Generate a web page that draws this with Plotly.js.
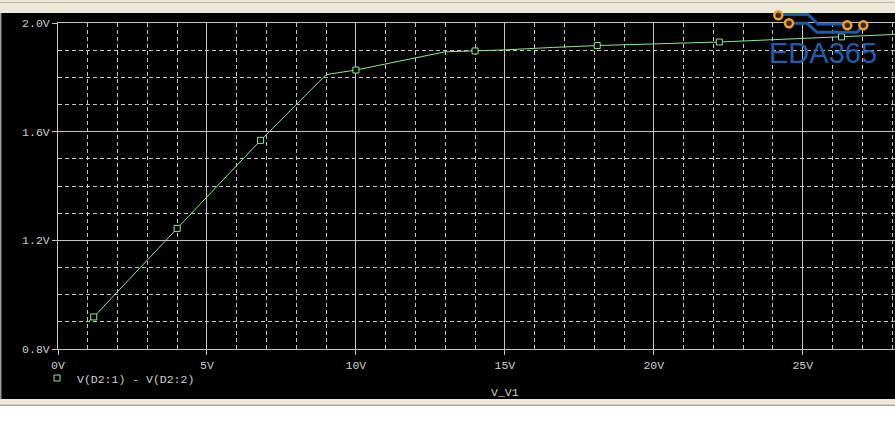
<!DOCTYPE html>
<html>
<head>
<meta charset="utf-8">
<script src="https://cdn.plot.ly/plotly-3.0.1.min.js"></script>
<style>
  html, body { margin: 0; padding: 0; background: #ffffff; }
  #chart { width: 895px; height: 429px; }
</style>
</head>
<body>
<div id="chart"></div>
<script>
// ---- data ----
const sweepV      = [1.0, 1.2, 4.0, 6.8, 9.0, 10.0, 13.0, 14.0, 15.0, 16.6, 18.1, 22.2, 26.3, 28.1]; // V_V1
const diodeV      = [0.899, 0.918, 1.244, 1.568, 1.810, 1.827, 1.894, 1.897, 1.901, 1.910, 1.917, 1.930, 1.949, 1.958];
const markSweepV  = [1.2, 4.0, 6.8, 10.0, 14.0, 18.1, 22.2, 26.3];
const markDiodeV  = [0.918, 1.244, 1.568, 1.827, 1.897, 1.917, 1.930, 1.949];
const traceName   = "V(D2:1) - V(D2:2)";
const xTitle      = "V_V1";
const logoText    = "EDA365";

// ---- layout geometry (page pixels -> paper) ----
const L = 58, T = 23, W = 837, H = 326;
const px = x => (x - L) / W;
const py = y => (T + H - y) / H;

const green = '#8fe88f';
const grey  = '#c4c4c4';
const txt   = '#cfcfcf';
const mono  = 'Liberation Mono, Courier New, monospace';

const traces = [
  { x: sweepV, y: diodeV, type: 'scatter', mode: 'lines',
    line: { color: green, width: 1 }, showlegend: false, hoverinfo: 'skip' },
  { x: markSweepV, y: markDiodeV, type: 'scatter', mode: 'markers', name: traceName,
    marker: { symbol: 'square', size: 6, color: '#000000', line: { color: green, width: 1 } } }
];

function rect(x0, y0, x1, y1, color, layer) {
  return { type: 'rect', xref: 'paper', yref: 'paper', x0: px(x0), x1: px(x1), y0: py(y0), y1: py(y1),
           fillcolor: color, line: { width: 0 }, layer: layer || 'below' };
}
function ring(x, y) {
  return { type: 'circle', xref: 'paper', yref: 'paper', xsizemode: 'pixel', ysizemode: 'pixel',
           xanchor: px(x), yanchor: py(y), x0: -4, x1: 4, y0: -4, y1: 4,
           fillcolor: '#3a2a10', line: { color: '#f0a030', width: 2.5 }, layer: 'above' };
}
function path(pts) {
  const d = pts.map((p, i) => (i ? 'L' : 'M') + px(p[0]) + ',' + py(p[1])).join(' ');
  return { type: 'path', xref: 'paper', yref: 'paper', path: d,
           line: { color: '#1d5aa6', width: 3 }, layer: 'above' };
}

const shapes = [
  // window frame
  rect(0, 0, 895, 13, '#ece9d8'),
  rect(0, 2, 895, 3, '#b9b5a6'),
  rect(0, 13, 895, 399, '#000000'),
  rect(0, 13, 1.5, 399, '#9a9a9a'),
  rect(0, 399, 895, 404.5, '#ece9d8'),
  rect(0, 404.5, 895, 406, '#aca899'),
  // logo traces
  path([[783, 14.5], [808, 14.5], [818, 24], [847, 24]]),
  path([[790, 23.3], [807, 23.3], [817, 32.3], [857, 32.3], [863, 25.3]]),
  ring(778.3, 15.3), ring(789, 23.3), ring(847.3, 25.3), ring(863.3, 25.3)
];

const axisCommon = {
  showline: true, linecolor: grey, linewidth: 1,
  showgrid: true, gridcolor: grey, gridwidth: 1,
  zeroline: false, ticks: 'outside', ticklen: 5, tickcolor: grey, tickwidth: 1,
  tickfont: { family: mono, size: 11.5, color: txt }, ticksuffix: 'V', fixedrange: true
};

const layout = {
  width: 895, height: 429,
  margin: { l: L, r: 895 - L - W, t: T, b: 429 - T - H, autoexpand: false },
  paper_bgcolor: '#ffffff', plot_bgcolor: '#000000',
  xaxis: Object.assign({}, axisCommon, {
    range: [0, W / 29.79], tick0: 0, dtick: 5, tickmode: 'linear', mirror: true,
    minor: { dtick: 1, tick0: 0, showgrid: true, gridcolor: grey, gridwidth: 1, griddash: '4px,3px', ticks: '' }
  }),
  yaxis: Object.assign({}, axisCommon, {
    range: [0.8, 2.0], tick0: 0.8, dtick: 0.4, tickmode: 'linear', tickformat: '.1f',
    minor: { dtick: 0.1, tick0: 0.8, showgrid: true, gridcolor: grey, gridwidth: 1, griddash: '4px,3px', ticks: '' }
  }),
  showlegend: true,
  legend: { x: px(77 - 40), y: py(378), xanchor: 'left', yanchor: 'middle', xref: 'paper', yref: 'paper',
            bgcolor: 'rgba(0,0,0,0)', borderwidth: 0, font: { family: mono, size: 11.5, color: txt } },
  annotations: [
    { text: xTitle, xref: 'paper', yref: 'paper', x: px(505), y: py(392.5), showarrow: false,
      xanchor: 'center', yanchor: 'middle', font: { family: mono, size: 11.5, color: txt } },
    { text: logoText, xref: 'paper', yref: 'paper', x: px(823), y: py(53), showarrow: false,
      xanchor: 'center', yanchor: 'middle', font: { family: 'Liberation Sans, Arial, sans-serif', size: 29, color: '#1f5eab' } }
  ],
  shapes: shapes
};

Plotly.newPlot('chart', traces, layout, { staticPlot: true, displayModeBar: false });
</script>
</body>
</html>
